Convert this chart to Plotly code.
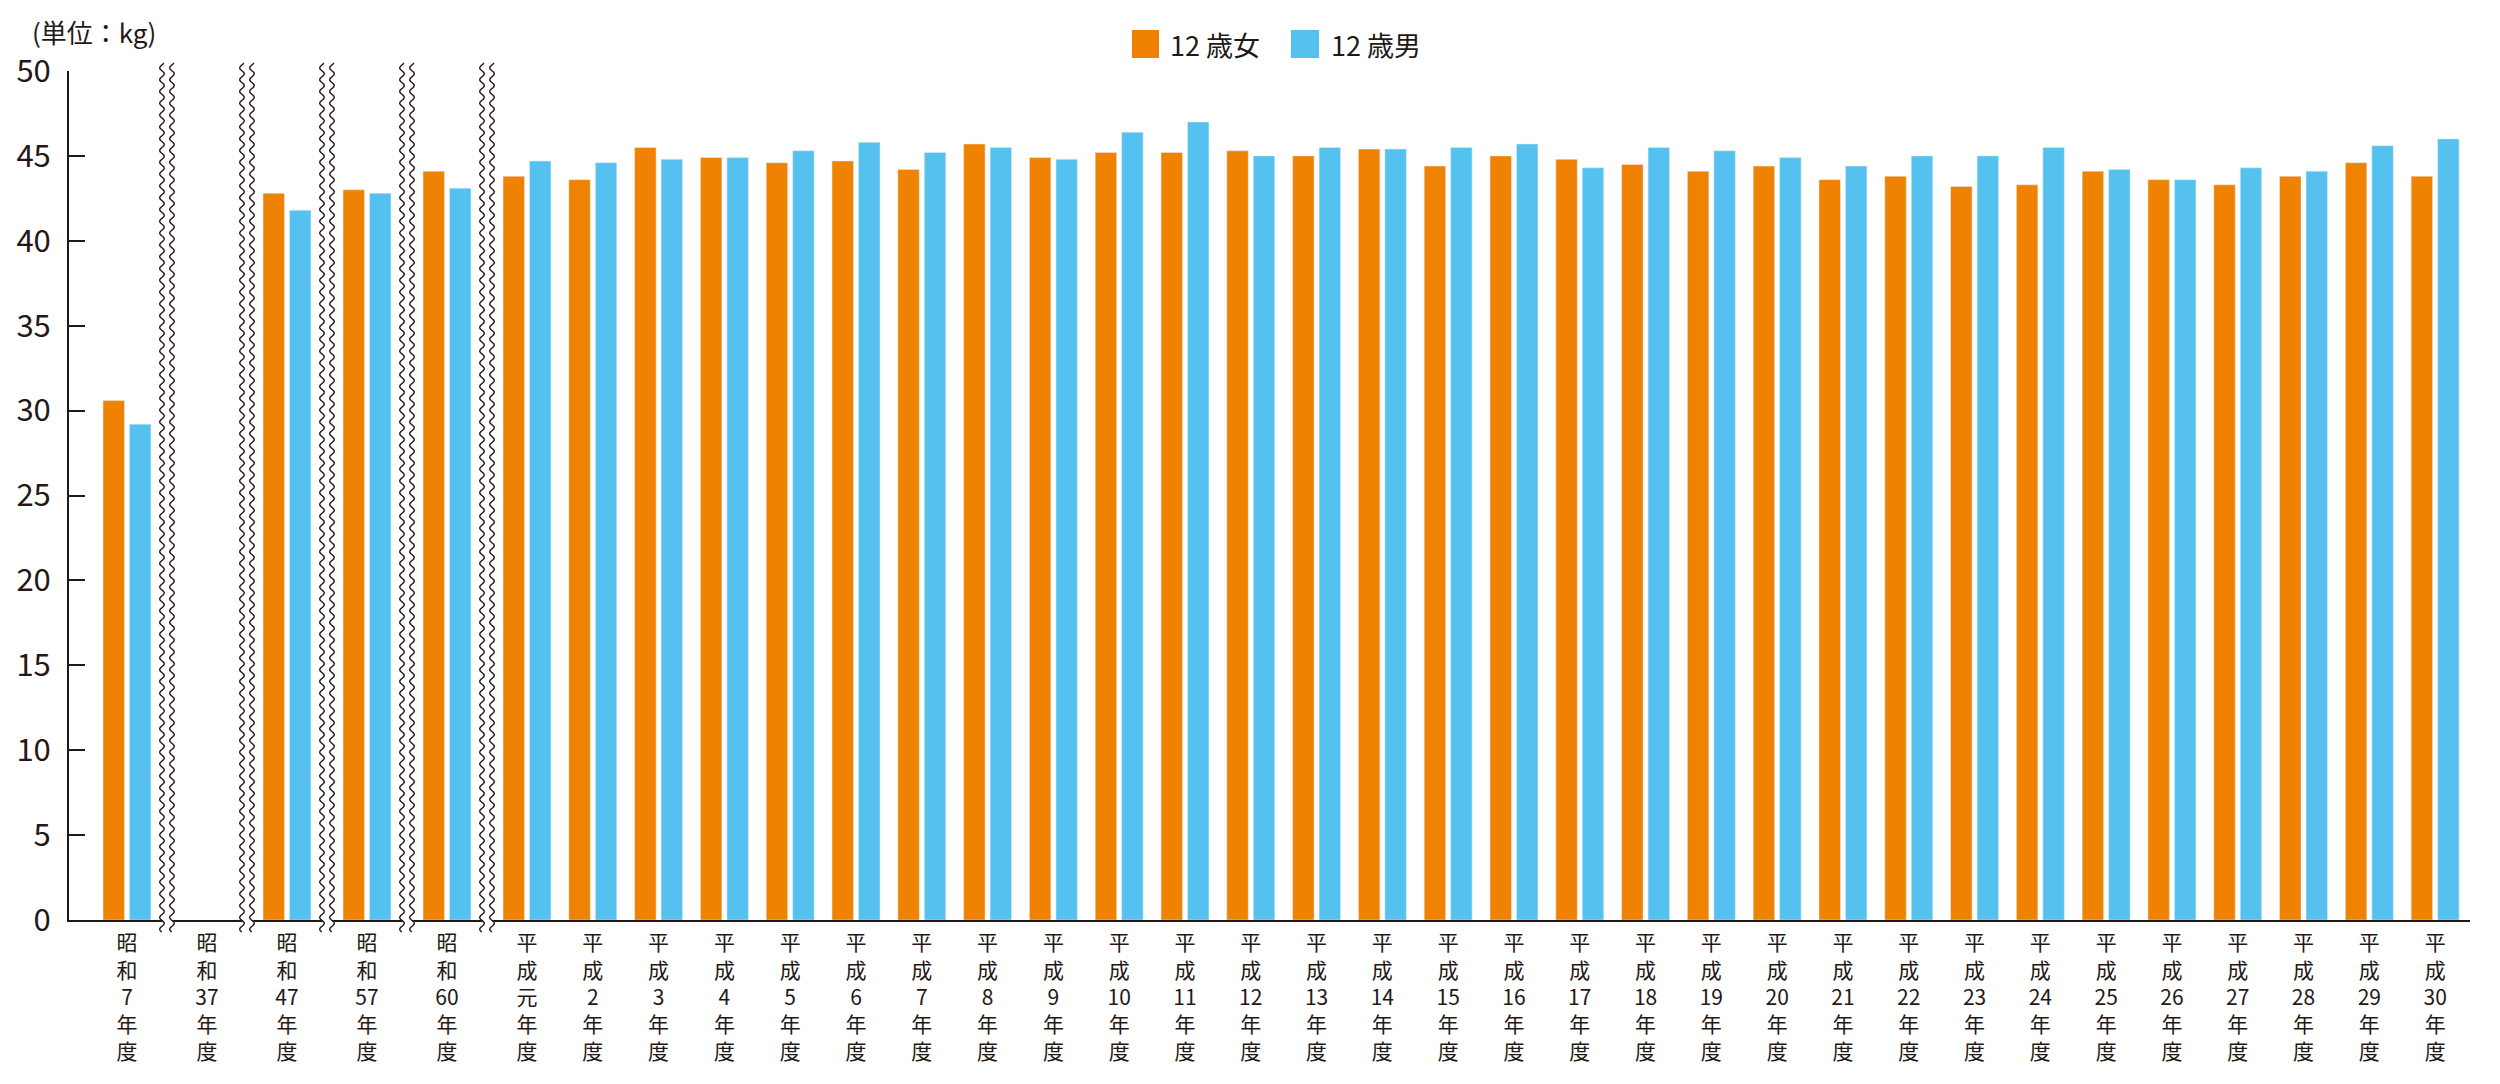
import re
import math
import plotly.graph_objects as go

# ---------------- data ----------------
categories = ["昭和7年度", "昭和37年度", "昭和47年度", "昭和57年度", "昭和60年度",
              "平成元年度"] + [f"平成{i}年度" for i in range(2, 31)]
break_after = ["昭和7年度", "昭和37年度", "昭和47年度", "昭和57年度", "昭和60年度"]

girls = [30.6, None, 42.8, 43.0, 44.1,
         43.8, 43.6, 45.5, 44.9, 44.6, 44.7, 44.2, 45.7, 44.9, 45.2,
         45.2, 45.3, 45.0, 45.4, 44.4, 45.0, 44.8, 44.5, 44.1, 44.4,
         43.6, 43.8, 43.2, 43.3, 44.1, 43.6, 43.3, 43.8, 44.6, 43.8]
boys = [29.2, None, 41.8, 42.8, 43.1,
        44.7, 44.6, 44.8, 44.9, 45.3, 45.8, 45.2, 45.5, 44.8, 46.4,
        47.0, 45.0, 45.5, 45.4, 45.5, 45.7, 44.3, 45.5, 45.3, 44.9,
        44.4, 45.0, 45.0, 45.5, 44.2, 43.6, 44.3, 44.1, 45.6, 46.0]
series_names = ["12 歳女", "12 歳男"]
unit_label = "(単位：kg)"
y_ticks = [0, 5, 10, 15, 20, 25, 30, 35, 40, 45, 50]

# ---------------- style ----------------
ORANGE = "#EF8200"
BLUE = "#55C1EF"
INK = "#231815"
FONT_JP = "Noto Sans CJK JP"
FONT_NUM = "Liberation Sans Narrow, Noto Sans CJK JP"

W, H = 2500, 1084
ML, MR, MT, MB = 69, 30, 71, 164
PW, PH = W - ML - MR, H - MT - MB

BREAK_EXTRA = 0.216  # extra category spacing where an axis break sits

# positions along a numeric axis (each break widens the step)
pos = []
p = 0.0
for i, c in enumerate(categories):
    if i > 0:
        p += 1 + (BREAK_EXTRA if categories[i - 1] in break_after else 0)
    pos.append(p)

x_range = [pos[0] - 0.881, pos[-1] + 0.53]


def split_label(s):
    return "<br>".join(re.findall(r"\d+|.", s))


ticktext = [split_label(c) for c in categories]


def px_to_paper_x(px):
    return (px - ML) / PW


def px_to_paper_y(py):
    return (H - MB - py) / PH


def data_to_paper_x(xd):
    return (xd - x_range[0]) / (x_range[1] - x_range[0])


fig = go.Figure()
fig.add_trace(go.Bar(x=pos, y=girls, name=series_names[0], marker_color=ORANGE,
                     showlegend=False))
fig.add_trace(go.Bar(x=pos, y=boys, name=series_names[1], marker_color=BLUE,
                     showlegend=False))

# ---------------- axis break marks ----------------
shapes = []
TOP_PX, BOT_PX = 63, 932
HALF_GAP_PX = 5.0
AMP_PX = 2.3
PERIOD_PX = 11.8
STEP_PX = 1.0
for i, c in enumerate(categories[:-1]):
    if c not in break_after:
        continue
    cx_px = ML + data_to_paper_x((pos[i] + pos[i + 1]) / 2) * PW
    n = int((BOT_PX - TOP_PX) / STEP_PX) + 1
    ys = [TOP_PX + k * STEP_PX for k in range(n)]
    left = [(cx_px - HALF_GAP_PX + AMP_PX * math.sin(2 * math.pi * y / PERIOD_PX), y) for y in ys]
    right = [(cx_px + HALF_GAP_PX + AMP_PX * math.sin(2 * math.pi * y / PERIOD_PX), y) for y in ys]

    def to_path(pts):
        return " ".join(("M" if k == 0 else "L") + f"{px_to_paper_x(x):.6f},{px_to_paper_y(y):.6f}"
                        for k, (x, y) in enumerate(pts))

    fill_path = to_path(left + right[::-1]) + " Z"
    shapes.append(dict(type="path", xref="paper", yref="paper", path=fill_path,
                       fillcolor="white", line=dict(width=0), layer="above"))
    for pts in (left, right):
        shapes.append(dict(type="path", xref="paper", yref="paper", path=to_path(pts),
                           line=dict(color=INK, width=1.4), layer="above"))

# ---------------- custom legend ----------------
legend_items = [(1132, 1159, ORANGE, series_names[0], 1168),
                (1291, 1319, BLUE, series_names[1], 1329)]
annotations = []
for x0, x1, col, name, tx in legend_items:
    shapes.append(dict(type="rect", xref="paper", yref="paper",
                       x0=px_to_paper_x(x0), x1=px_to_paper_x(x1),
                       y0=px_to_paper_y(58), y1=px_to_paper_y(30),
                       fillcolor=col, line=dict(width=0)))
    annotations.append(dict(text=name, xref="paper", yref="paper",
                            x=px_to_paper_x(tx), y=px_to_paper_y(44),
                            xanchor="left", yanchor="middle", showarrow=False,
                            font=dict(family=FONT_JP, size=27, color=INK)))

annotations.append(dict(text=unit_label, xref="paper", yref="paper",
                        x=px_to_paper_x(30), y=px_to_paper_y(31),
                        xanchor="left", yanchor="middle", showarrow=False,
                        font=dict(family=FONT_JP, size=26, color=INK)))

fig.update_layout(
    width=W, height=H, autosize=False,
    margin=dict(l=ML, r=MR, t=MT, b=MB, pad=0),
    paper_bgcolor="white", plot_bgcolor="white",
    barmode="group", bargap=0.195, bargroupgap=0.19,
    shapes=shapes, annotations=annotations,
    showlegend=False,
    xaxis=dict(range=x_range, tickvals=pos, ticktext=ticktext, ticks="",
               showline=True, linecolor=INK, linewidth=2, showgrid=False,
               zeroline=False, ticklabelstandoff=3, automargin=False,
               tickfont=dict(family=FONT_NUM, size=21, color=INK)),
    yaxis=dict(range=[0, 50], tickvals=y_ticks, ticks="inside", ticklen=16,
               tickwidth=2, tickcolor=INK, showline=True, linecolor=INK,
               linewidth=2, showgrid=False, zeroline=False, ticklabelstandoff=10,
               automargin=False,
               tickfont=dict(family=FONT_NUM, size=31, color=INK)),
)

fig.write_html("out.html")
